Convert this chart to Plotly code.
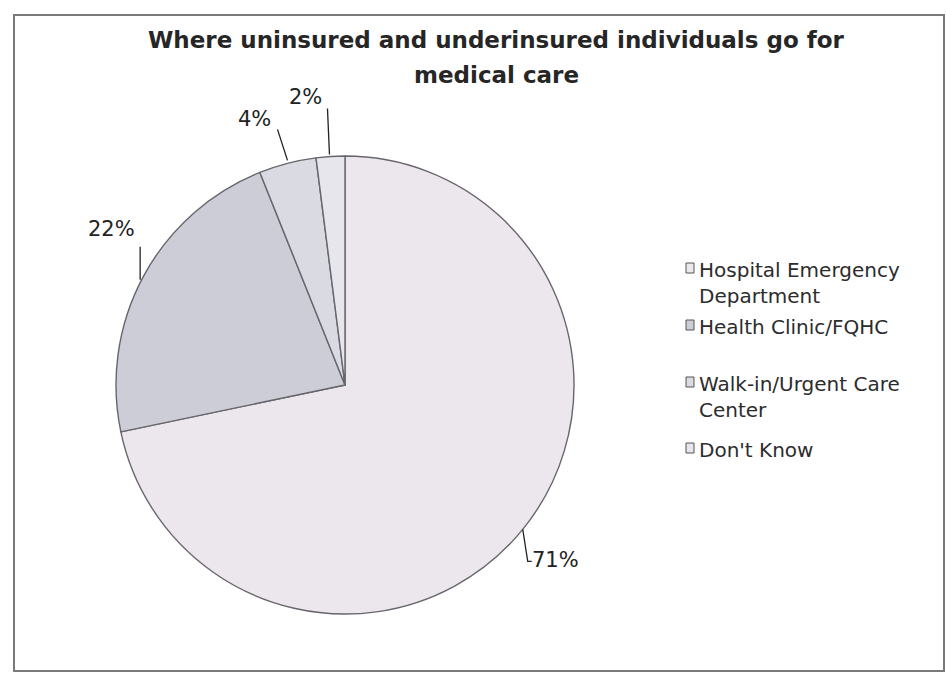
import math
import plotly.graph_objects as go

# Survey responses: where uninsured / underinsured individuals go for care
categories = [
    "Hospital Emergency<br>Department",
    "Health Clinic/FQHC",
    "Walk-in/Urgent Care<br>Center",
    "Don't Know",
]
shares = [71, 22, 4, 2]

title_lines = [
    "Where uninsured and underinsured individuals go for",
    "medical care",
]

slice_colors = ["#ece7ec", "#cdcdd7", "#dadae2", "#e6e6ec"]

W, H = 946, 674
FONT = "DejaVu Sans, sans-serif"
# pie placement in pixels
cx_px, cy_px, r_px = 345, 385, 229

# label layout, pixels relative to each slice's edge point at its mid-angle
text_offsets = [(33, 31), (-32, -48), (-33, -44), (-25, -59)]
leader_paths = [
    [(0, 0), (5, 32), (9, 32)],
    [(-3, 3), (-3, -30)],
    [(0, -3), (-10, -34)],
    [(-1, -2), (-3, -48)],
]

# legend layout, pixels
legend_x = 697
legend_rows = [268, 325, 382, 448]


def px(x, y):
    return x / W, 1 - y / H


fig = go.Figure()
fig.add_trace(go.Pie(
    labels=[c.replace("<br>", " ") for c in categories],
    values=shares,
    sort=False,
    direction="clockwise",
    rotation=0,
    textinfo="none",
    hoverinfo="label+value",
    showlegend=False,
    marker=dict(colors=slice_colors, line=dict(color="#66666c", width=1.4)),
    domain=dict(
        x=[(cx_px - r_px) / W, (cx_px + r_px) / W],
        y=[1 - (cy_px + r_px) / H, 1 - (cy_px - r_px) / H],
    ),
))

shapes = []
total = sum(shares)
cum = 0
for val, (tx, ty), path in zip(shares, text_offsets, leader_paths):
    mid = (cum + val / 2) / total * 2 * math.pi
    cum += val
    ex = cx_px + r_px * math.sin(mid)
    ey = cy_px - r_px * math.cos(mid)
    pts = [px(ex + dx, ey + dy) for dx, dy in path]
    d = "M " + " L ".join(f"{a:.5f},{b:.5f}" for a, b in pts)
    shapes.append(dict(type="path", xref="paper", yref="paper", path=d,
                       line=dict(color="#222222", width=1.3)))
    lx, ly = px(ex + tx, ey + ty)
    fig.add_annotation(
        x=lx, y=ly, xref="paper", yref="paper", showarrow=False,
        text=f"{val}%", xanchor="center", yanchor="middle",
        font=dict(family=FONT, size=21, color="#222222"),
    )

# title
for i, line in enumerate(title_lines):
    tx, ty = px(497, 40 + 35 * i)
    fig.add_annotation(
        x=tx, y=ty, xref="paper", yref="paper", showarrow=False,
        text=f"<b>{line}</b>", xanchor="center", yanchor="middle",
        font=dict(family=FONT, size=23, color="#262626"),
    )

# legend entries
for cat, color, row in zip(categories, slice_colors, legend_rows):
    x0, y0 = px(686, row - 5)
    x1, y1 = px(694, row + 5)
    shapes.append(dict(type="rect", xref="paper", yref="paper",
                       x0=x0, x1=x1, y0=y1, y1=y0, fillcolor=color,
                       line=dict(color="#555555", width=1)))
    lx, ly = px(legend_x, row - 12)
    fig.add_annotation(
        x=lx, y=ly, xref="paper", yref="paper", showarrow=False,
        text=cat, xanchor="left", yanchor="top", align="left",
        font=dict(family=FONT, size=20, color="#2c2c2c"),
    )

# outer frame
fx0, fy0 = px(14, 671)
fx1, fy1 = px(944, 15)
shapes.append(dict(type="rect", xref="paper", yref="paper",
                   x0=fx0, x1=fx1, y0=fy0, y1=fy1,
                   line=dict(color="#7a7a7a", width=2)))

fig.update_layout(
    width=W, height=H,
    margin=dict(l=0, r=0, t=0, b=0),
    paper_bgcolor="white",
    plot_bgcolor="white",
    shapes=shapes,
)

fig.write_html("out.html")
